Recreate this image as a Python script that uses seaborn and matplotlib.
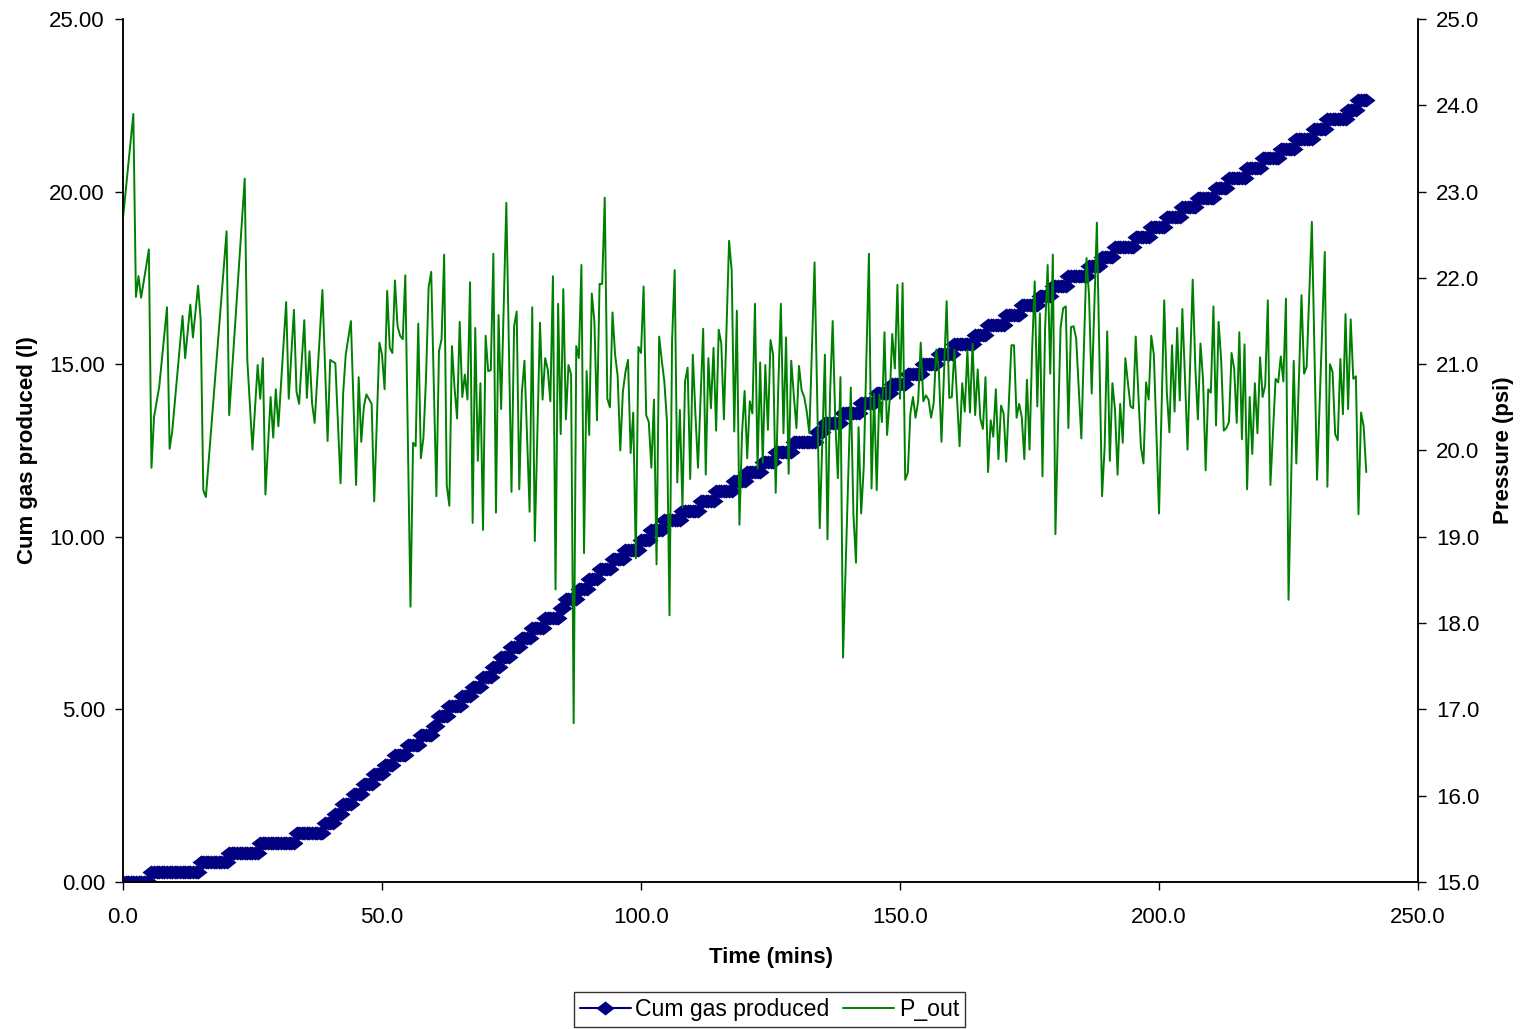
import numpy as np
import matplotlib
matplotlib.use("Agg")
import matplotlib.pyplot as plt
from matplotlib.lines import Line2D
from matplotlib.ticker import FormatStrFormatter
import seaborn as sns

# Outlet pressure log (time in minutes, pressure in psi)
p_time = [
    0.0, 2.0, 2.5, 3.0, 3.5, 5.0, 5.5, 6.0, 7.0, 8.5, 9.0, 9.5, 11.5, 12.0, 13.0, 13.5,
    14.5, 15.0, 15.5, 16.0, 20.0, 20.5, 23.5, 24.0, 25.0, 26.0, 26.5, 27.0, 27.5, 28.5,
    29.0, 29.5, 30.0, 31.5, 32.0, 33.0, 33.5, 34.0, 35.0, 35.5, 36.0, 36.5, 37.0, 38.5,
    39.5, 40.0, 41.0, 42.0, 42.5, 43.0, 44.0, 45.0, 45.5, 46.0, 46.5, 47.0, 48.0, 48.5,
    49.5, 50.0, 50.5, 51.0, 51.5, 52.0, 52.5, 53.0, 53.5, 54.0, 54.5, 55.5, 56.0, 56.5,
    57.0, 57.5, 58.0, 58.5, 59.0, 59.5, 60.5, 61.0, 61.5, 62.0, 62.5, 63.0, 63.5, 64.0,
    64.5, 65.0, 65.5, 66.0, 66.5, 67.0, 67.5, 68.0, 68.5, 69.0, 69.5, 70.0, 70.5, 71.0,
    71.5, 72.0, 72.5, 73.0, 74.0, 75.0, 75.5, 76.0, 76.5, 77.0, 77.5, 78.5, 79.0, 79.5,
    80.5, 81.0, 81.5, 82.0, 82.5, 83.0, 83.5, 84.0, 84.5, 85.0, 85.5, 86.0, 86.5, 87.0,
    87.5, 88.0, 88.5, 89.0, 89.5, 90.0, 90.5, 91.0, 91.5, 92.0, 92.5, 93.0, 93.5, 94.0,
    94.5, 95.0, 95.5, 96.0, 96.5, 97.0, 97.5, 98.0, 98.5, 99.0, 99.5, 100.0, 100.5, 101.0,
    101.5, 102.0, 102.5, 103.0, 103.5, 104.0, 104.5, 105.0, 105.5, 106.0, 106.5, 107.0,
    107.5, 108.0, 108.5, 109.0, 109.5, 110.0, 110.5, 111.0, 112.0, 112.5, 113.0, 113.5,
    114.0, 114.5, 115.0, 115.5, 116.0, 117.0, 117.5, 118.0, 118.5, 119.0, 119.5, 120.0,
    120.5, 121.0, 121.5, 122.0, 122.5, 123.0, 123.5, 124.0, 124.5, 125.0, 125.5, 126.0,
    126.5, 127.0, 127.5, 128.0, 128.5, 129.0, 129.5, 130.0, 130.5, 131.0, 131.5, 132.0,
    132.5, 133.5, 134.5, 135.5, 136.0, 136.5, 137.0, 137.5, 138.0, 138.5, 139.0, 140.5,
    141.0, 141.5, 142.0, 142.5, 143.0, 144.0, 144.5, 145.0, 145.5, 146.0, 146.5, 147.0,
    147.5, 148.0, 148.5, 149.0, 149.5, 150.0, 150.5, 151.0, 151.5, 152.0, 152.5, 153.0,
    153.5, 154.0, 154.5, 155.0, 155.5, 156.0, 156.5, 157.0, 157.5, 158.0, 159.0, 159.5,
    160.0, 160.5, 161.5, 162.0, 162.5, 163.0, 163.5, 164.0, 164.5, 165.0, 165.5, 166.0,
    166.5, 167.0, 167.5, 168.0, 168.5, 169.0, 169.5, 170.0, 170.5, 171.0, 171.5, 172.0,
    172.5, 173.0, 173.5, 174.0, 174.5, 175.0, 175.5, 176.0, 176.5, 177.0, 177.5, 178.0,
    178.5, 179.0, 179.5, 180.0, 180.5, 181.0, 181.5, 182.0, 182.5, 183.0, 183.5, 184.0,
    185.0, 186.0, 186.5, 187.0, 188.0, 189.0, 189.5, 190.0, 190.5, 191.0, 191.5, 192.0,
    192.5, 193.0, 193.5, 194.0, 194.5, 195.0, 195.5, 196.0, 196.5, 197.0, 197.5, 198.0,
    198.5, 199.0, 200.0, 201.0, 201.5, 202.0, 202.5, 203.0, 203.5, 204.0, 204.5, 205.0,
    205.5, 206.5, 207.0, 207.5, 208.0, 208.5, 209.0, 209.5, 210.0, 210.5, 211.0, 211.5,
    212.0, 212.5, 213.0, 213.5, 214.0, 214.5, 215.0, 215.5, 216.0, 216.5, 217.0, 217.5,
    218.0, 218.5, 219.0, 219.5, 220.0, 220.5, 221.0, 221.5, 222.5, 223.0, 223.5, 224.0,
    224.5, 225.0, 226.0, 226.5, 227.5, 228.0, 228.5, 229.5, 230.5, 232.0, 232.5, 233.0,
    233.5, 234.0, 234.5, 235.0, 235.5, 236.0, 236.5, 237.0, 237.5, 238.0, 238.5, 239.0,
    239.5, 240.0,
]
p_out = [
    22.69, 23.90, 21.78, 22.02, 21.77, 22.33, 19.80, 20.39, 20.74, 21.66, 20.02, 20.22, 21.56, 21.07, 21.69, 21.31,
    21.91, 21.51, 19.54, 19.46, 22.54, 20.41, 23.15, 21.05, 20.01, 20.99, 20.60, 21.07, 19.49, 20.62,
    20.15, 20.71, 20.28, 21.72, 20.60, 21.63, 20.68, 20.54, 21.51, 20.61, 21.15, 20.55, 20.32, 21.86,
    20.11, 21.05, 21.01, 19.62, 20.66, 21.11, 21.50, 19.60, 20.85, 20.10, 20.51, 20.65, 20.54, 19.41,
    21.25, 21.11, 20.71, 21.85, 21.19, 21.13, 21.97, 21.44, 21.33, 21.29, 22.03, 18.19, 20.09, 20.05,
    21.47, 19.91, 20.15, 20.84, 21.89, 22.07, 19.47, 21.15, 21.29, 22.27, 19.60, 19.36, 21.21, 20.73,
    20.37, 21.49, 20.62, 20.88, 20.59, 21.95, 19.16, 21.42, 19.88, 20.78, 19.08, 21.33, 20.92, 20.93,
    22.28, 19.28, 21.57, 20.48, 22.87, 19.52, 21.44, 21.61, 19.55, 20.67, 21.04, 19.29, 21.66, 18.95,
    21.48, 20.59, 21.07, 20.94, 20.57, 22.02, 18.39, 21.70, 20.19, 21.87, 20.36, 20.99, 20.88, 16.84,
    21.21, 21.07, 22.15, 18.81, 20.92, 20.18, 21.82, 21.50, 20.35, 21.93, 21.93, 22.93, 20.60, 20.50,
    21.60, 21.11, 20.86, 20.00, 20.68, 20.91, 21.05, 19.97, 20.44, 18.75, 21.20, 21.13, 21.90, 20.41,
    20.33, 19.80, 20.59, 18.68, 21.32, 21.05, 20.80, 20.35, 18.09, 21.28, 22.09, 19.63,
    20.47, 19.34, 20.80, 20.96, 19.67, 21.11, 20.43, 19.80, 21.41, 19.72, 21.07, 20.49,
    21.19, 20.23, 21.40, 21.24, 20.36, 22.43, 22.09, 20.22, 21.62, 19.14, 20.20, 20.69,
    19.91, 20.57, 20.43, 21.70, 19.79, 21.02, 19.86, 20.99, 20.24, 21.28, 21.11, 19.51,
    20.74, 21.70, 20.20, 21.31, 19.73, 21.04, 20.64, 20.26, 20.98, 20.70, 20.62, 20.45,
    20.20, 22.18, 19.10, 21.11, 18.97, 20.67, 21.50, 20.35, 19.68, 20.85, 17.60, 20.73,
    19.27, 18.70, 20.27, 19.27, 19.81, 22.28, 19.56, 20.66, 19.54, 20.65, 20.33, 21.37,
    20.18, 20.59, 21.35, 20.95, 21.92, 20.60, 21.94, 19.66, 19.74, 20.43, 20.62, 20.38,
    20.57, 21.25, 20.57, 20.64, 20.59, 20.38, 20.55, 21.17, 20.93, 20.10, 21.73, 20.61,
    20.62, 21.17, 20.05, 20.78, 20.45, 21.16, 20.44, 21.24, 20.41, 20.94, 20.37, 20.25,
    20.85, 19.75, 20.35, 20.16, 20.71, 19.90, 20.52, 20.43, 19.87, 20.55, 21.22, 21.22,
    20.38, 20.54, 20.39, 19.90, 20.82, 20.01, 21.16, 21.96, 20.51, 21.59, 19.70, 21.40,
    22.15, 20.89, 22.27, 19.03, 20.28, 21.43, 21.65, 21.67, 20.26, 21.43, 21.44, 21.30,
    20.14, 22.23, 21.78, 20.66, 22.64, 19.47, 20.04, 21.38, 19.88, 20.78, 20.47, 19.72,
    20.54, 20.09, 21.07, 20.78, 20.51, 20.49, 21.32, 20.66, 20.04, 19.85, 20.79, 20.59,
    21.33, 21.11, 19.27, 21.74, 20.68, 20.21, 21.22, 20.45, 21.42, 20.58, 21.64, 20.86,
    20.01, 21.98, 20.97, 20.36, 21.24, 20.82, 19.77, 20.71, 20.67, 21.67, 20.29, 21.49,
    21.04, 20.23, 20.26, 20.33, 21.13, 20.95, 20.32, 21.37, 20.13, 21.23, 19.55, 20.62,
    19.96, 20.78, 20.20, 21.08, 20.62, 20.76, 21.74, 19.60, 20.83, 20.79, 21.09, 20.80,
    21.76, 18.27, 21.04, 19.85, 21.80, 20.89, 20.97, 22.65, 19.66, 22.30, 19.58, 21.00,
    20.91, 20.19, 20.12, 21.06, 20.42, 21.58, 20.48, 21.52, 20.83, 20.86, 19.26, 20.44,
    20.28, 19.75,
]

# Cumulative gas counter: the time each new reading first appears, and the reading (litres)
gas_step_time = [
    0.0, 5.5, 15.0, 20.5, 26.5, 33.5, 39.0, 41.0, 42.5, 44.5, 46.5, 48.5, 50.5, 52.5,
    55.0, 57.5, 60.0, 61.0, 63.0, 65.5, 67.5, 69.5, 71.5, 73.0, 75.0, 77.0, 79.0, 81.5,
    84.5, 85.5, 88.0, 90.0, 92.0, 94.5, 97.0, 100.0, 102.0, 104.5, 108.0, 111.5, 114.5,
    118.0, 120.5, 123.5, 126.0, 129.5, 134.0, 135.5, 139.0, 142.5, 145.5, 148.5, 151.5,
    154.5, 157.5, 160.5, 164.5, 167.0, 170.5, 173.5, 177.0, 179.5, 182.5, 186.5, 189.0,
    191.5, 195.5, 198.5, 201.5, 204.5, 207.5, 211.0, 213.5, 217.0, 220.0, 223.5, 226.5,
    230.0, 232.5, 236.5, 238.5,
]
gas_reading = [
    0.00, 0.28, 0.57, 0.85, 1.13, 1.42, 1.70, 1.98, 2.27, 2.55, 2.83, 3.12, 3.40, 3.68,
    3.96, 4.25, 4.53, 4.81, 5.10, 5.38, 5.66, 5.95, 6.23, 6.51, 6.80, 7.08, 7.36, 7.65,
    7.93, 8.21, 8.50, 8.78, 9.06, 9.35, 9.63, 9.91, 10.19, 10.48, 10.76, 11.04, 11.33,
    11.61, 11.89, 12.18, 12.46, 12.74, 13.03, 13.31, 13.59, 13.88, 14.16, 14.44, 14.73,
    15.01, 15.29, 15.58, 15.86, 16.14, 16.43, 16.71, 16.99, 17.28, 17.56, 17.84, 18.12,
    18.41, 18.69, 18.97, 19.26, 19.54, 19.82, 20.11, 20.39, 20.67, 20.96, 21.24, 21.52,
    21.81, 22.09, 22.37, 22.66,
]

x_ticks = [0, 50, 100, 150, 200, 250]
left_ticks = [0, 5, 10, 15, 20, 25]
right_ticks = list(range(15, 26))

# Gas readings are logged every half minute; each log entry holds the latest counter value
gas_time = np.arange(0.0, 240.0 + 0.25, 0.5)
step_idx = np.searchsorted(np.array(gas_step_time), gas_time, side="right") - 1
gas_cum = np.array(gas_reading)[step_idx]

sns.set_style("white")
plt.rcParams["font.family"] = ["Liberation Sans", "DejaVu Sans"]
plt.rcParams["text.color"] = "black"
plt.rcParams["axes.labelcolor"] = "black"
plt.rcParams["xtick.color"] = "black"
plt.rcParams["ytick.color"] = "black"

NAVY = "#000080"
GREEN = "#008000"
FS = 16

# Excel-style diamond, slightly wider than tall
diamond = [(-1.0, 0.0), (0.0, 0.78), (1.0, 0.0), (0.0, -0.78), (-1.0, 0.0)]
MS = 13

fig = plt.figure(figsize=(15.22, 10.29), dpi=100)
ax = fig.add_axes([0.0808, 0.1429, 0.8509, 0.8386])
ax2 = ax.twinx()

sns.lineplot(x=gas_time, y=gas_cum, ax=ax, color=NAVY, linewidth=1.5,
             marker=diamond, markersize=MS, markeredgewidth=0,
             markerfacecolor=NAVY, estimator=None, legend=False)
sns.lineplot(x=p_time, y=p_out, ax=ax2, color=GREEN, linewidth=1.4,
             estimator=None, legend=False)

ax.set_xlim(0, 250)
ax.set_ylim(0, 25)
ax2.set_ylim(15, 25)
ax.set_xticks(x_ticks)
ax.set_yticks(left_ticks)
ax2.set_yticks(right_ticks)
ax.xaxis.set_major_formatter(FormatStrFormatter("%.1f"))
ax.yaxis.set_major_formatter(FormatStrFormatter("%.2f"))
ax2.yaxis.set_major_formatter(FormatStrFormatter("%.1f"))

for a in (ax, ax2):
    a.spines["top"].set_visible(False)
    for s in ("left", "right", "bottom"):
        a.spines[s].set_color("black")
        a.spines[s].set_linewidth(1.1)
    a.grid(False)

ax.tick_params(axis="both", direction="out", length=6, width=1.0, colors="black",
               labelsize=FS, pad=7, left=True, bottom=True)
ax.tick_params(axis="x", pad=12)
ax2.tick_params(axis="y", direction="out", length=6, width=1.0, colors="black",
                labelsize=FS, pad=7, right=True)

ax.set_xlabel("Time (mins)", fontsize=FS, fontweight="bold", labelpad=14)
ax.set_ylabel("Cum gas produced (l)", fontsize=FS, fontweight="bold", labelpad=8)
ax2.set_ylabel("Pressure (psi)", fontsize=FS, fontweight="bold", labelpad=10)

handles = [
    Line2D([], [], color=NAVY, linewidth=1.5, marker=diamond, markersize=MS,
           markeredgewidth=0, markerfacecolor=NAVY),
    Line2D([], [], color=GREEN, linewidth=1.4),
]
leg = fig.legend(handles, ["Cum gas produced", "P_out"], loc="lower center",
                 bbox_to_anchor=(0.5056, 0.002), ncol=2, frameon=True, fancybox=False,
                 edgecolor="black", fontsize=16.6, handlelength=2.2, handletextpad=0.2,
                 columnspacing=0.6, borderpad=0.25, borderaxespad=0.0)
leg.get_frame().set_linewidth(1.0)

fig.savefig("out.png", dpi=100)
